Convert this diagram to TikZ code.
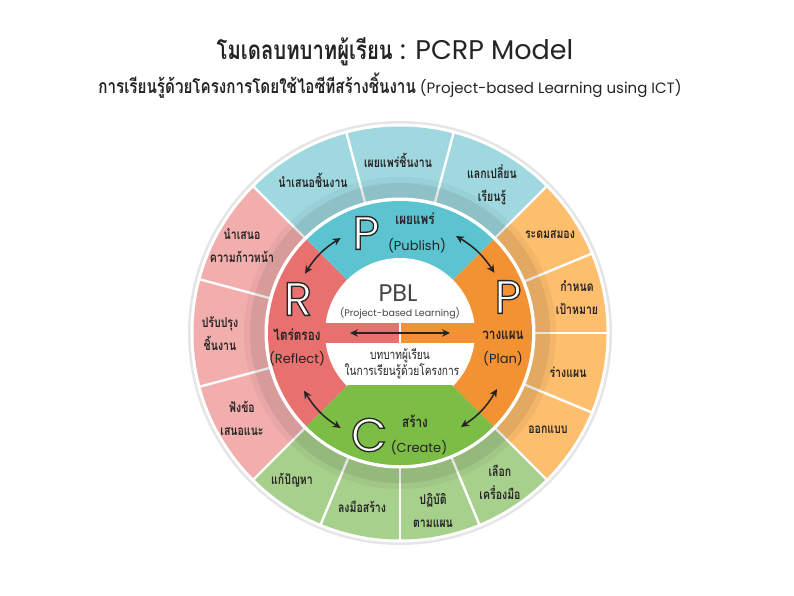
\documentclass[tikz,border=0pt]{standalone}
\usepackage{fontspec}
\setmainfont{Poppins}
\newfontfamily\thai[Script=Thai, FakeStretch=0.78]{Loma}
\usetikzlibrary{arrows.meta,calc}
\definecolor{ink}{HTML}{262324}
\definecolor{bOut}{HTML}{A0D8E0}
\definecolor{oOut}{HTML}{FDBE6E}
\definecolor{gOut}{HTML}{A8D08D}
\definecolor{pOut}{HTML}{F2AEAD}
\definecolor{bMid}{HTML}{5CC3D1}
\definecolor{oMid}{HTML}{F39233}
\definecolor{gMid}{HTML}{7CBD45}
\definecolor{rMid}{HTML}{E8716F}
\tikzset{
  seglabel/.style={font=\thai\bfseries\fontsize{13.5}{23}\selectfont, align=center, text=ink, inner sep=0pt},
  midthai/.style={font=\thai\bfseries\fontsize{15}{17}\selectfont, text=ink, inner sep=0pt},
  midlat/.style={font=\fontsize{13}{15}\selectfont, text=ink, inner sep=0pt},
  bigl/.style={font=\fontsize{47}{50}\selectfont, inner sep=0pt},
  sepline/.style={white, line width=2.4pt},
  arr/.style={draw=ink, line width=1.5pt, {Stealth[length=8pt,width=7.5pt]}-{Stealth[length=8pt,width=7.5pt]}},
}
\newcommand{\outletter}[3]{%
  \node[bigl] (#1) at (#2) {\color{white}\special{pdf:literal direct 0.15 0.14 0.14 RG 1.3 w 2 Tr}#3\special{pdf:literal direct 0 Tr}};}
\begin{document}
\begin{tikzpicture}[x=1pt,y=-1pt]
\useasboundingbox (0,0) rectangle (794,595);
\fill[white] (0,0) rectangle (794,595);
% ---------- wheel ----------
\begin{scope}[shift={(400,333)}, y=1pt]
  \fill[black!10] (0,0) circle (212);
  \fill[white] (0,0) circle (209.5);
  % outer sectors
  \fill[bOut] (0,0) -- (45:206.5) arc[start angle=45, end angle=135, radius=206.5] -- cycle;
  \fill[pOut] (0,0) -- (135:206.5) arc[start angle=135, end angle=225, radius=206.5] -- cycle;
  \fill[gOut] (0,0) -- (225:206.5) arc[start angle=225, end angle=315, radius=206.5] -- cycle;
  \fill[oOut] (0,0) -- (-45:206.5) arc[start angle=-45, end angle=45, radius=206.5] -- cycle;
  \foreach \a in {45,75,105,135,165,195,225,247.5,270,292.5,315,337.5,0,22.5}
    \draw[sepline] (\a:133) -- (\a:207);
  % shadow band
  \fill[black, opacity=0.04, even odd rule] (0,0) circle (156) (0,0) circle (134);
  \fill[black, opacity=0.07, even odd rule] (0,0) circle (150) (0,0) circle (134);
  % white gap + middle ring
  \fill[white] (0,0) circle (135.5);
  \fill[bMid] (0,0) -- (45:132) arc[start angle=45, end angle=135, radius=132] -- cycle;
  \fill[rMid] (0,0) -- (135:132) arc[start angle=135, end angle=225, radius=132] -- cycle;
  \fill[gMid] (0,0) -- (225:132) arc[start angle=225, end angle=315, radius=132] -- cycle;
  \fill[oMid] (0,0) -- (-45:132) arc[start angle=-45, end angle=45, radius=132] -- cycle;
  % inner white
  \fill[white] (0,0) circle (75);
  \begin{scope}
    \clip (0,0) -- (225:132) arc[start angle=225, end angle=315, radius=132] -- cycle;
    \fill[gMid] (-140,-52) rectangle (140,-140);
  \end{scope}
  \fill[rMid] (-80,10) rectangle (-1.4,-9.5);
  \fill[oMid] (1.4,10) rectangle (80,-9.5);
  % arrow end points
  \coordinate (a1) at (122:112); \coordinate (a2) at (148:112);
  \coordinate (b1) at (32.5:112); \coordinate (b2) at (60:112);
  \coordinate (c1) at (211:112);  \coordinate (c2) at (238:112);
  \coordinate (d1) at (-57:112);  \coordinate (d2) at (-30:112);
  \coordinate (h1) at (-50,0);    \coordinate (h2) at (50,0);
  \draw[arr] (a1) to[bend right=13] (a2);
  \draw[arr] (b1) to[bend right=13] (b2);
  \draw[arr] (c1) to[bend right=13] (c2);
  \draw[arr] (d1) to[bend right=13] (d2);
  \draw[arr] (h1) -- (h2);
\end{scope}
% ---------- titles ----------
\node[text=ink, inner sep=0pt, font=\fontsize{27}{30}\selectfont] (title) at (395,52)
  {{\thai\bfseries\fontsize{26}{30}\selectfont โมเดลบทบาทผู้เรียน} : PCRP Model};
\node[text=ink, inner sep=0pt, font=\fontsize{15}{18}\selectfont] (subtitle) at (390,86)
  {{\thai\bfseries\fontsize{19.5}{20}\selectfont การเรียนรู้ด้วยโครงการโดยใช้ไอซีทีสร้างชิ้นงาน} (Project-based Learning using ICT)};
% ---------- outer labels ----------
\node[seglabel] (s1) at (313,180) {นำเสนอชิ้นงาน};
\node[seglabel] (s2) at (398,160) {เผยแพร่ชิ้นงาน};
\node[seglabel] (s3) at (492,185) {แลกเปลี่ยน\\เรียนรู้};
\node[seglabel] (s4) at (550,235) {ระดมสมอง};
\node[seglabel] (s5) at (577,298) {กำหนด\\เป้าหมาย};
\node[seglabel] (s6) at (568,372) {ร่างแผน};
\node[seglabel] (s7) at (548,430) {ออกแบบ};
\node[seglabel] (s8) at (500,482) {เลือก\\เครื่องมือ};
\node[seglabel] (s9) at (433,510) {ปฏิบัติ\\ตามแผน};
\node[seglabel] (s10) at (362,507) {ลงมือสร้าง};
\node[seglabel] (s11) at (292,480) {แก้ปัญหา};
\node[seglabel] (s12) at (242,418) {ฟังข้อ\\เสนอแนะ};
\node[seglabel] (s13) at (220,334) {ปรับปรุง\\ชิ้นงาน};
\node[seglabel] (s14) at (242,246) {นำเสนอ\\ความก้าวหน้า};
% ---------- middle ring ----------
\outletter{bigP1}{366,233}{P}
\node[midthai] (pub1) at (415,219) {เผยแพร่};
\node[midlat] (pub2) at (417,246) {(Publish)};
\outletter{bigR}{298,299}{R}
\node[midthai] (ref1) at (297,335) {ไตร่ตรอง};
\node[midlat] (ref2) at (297,359) {(Reflect)};
\outletter{bigP2}{508,297}{P}
\node[midthai] (pl1) at (503,335) {วางแผน};
\node[midlat] (pl2) at (503,359) {(Plan)};
\outletter{bigC}{369,435}{C}
\node[midthai] (cr1) at (415,421) {สร้าง};
\node[midlat] (cr2) at (419,448) {(Create)};
% ---------- center ----------
\node[text=ink!85, inner sep=0pt, font=\fontsize{24}{26}\selectfont] (pbl) at (398,293) {PBL};
\node[text=ink!85, inner sep=0pt, font=\fontsize{9.5}{11}\selectfont] (pbl2) at (400,313) {(Project-based Learning)};
\node[text=ink, inner sep=0pt, font=\thai\fontsize{13}{14}\selectfont] (role1) at (400,356) {บทบาทผู้เรียน};
\node[text=ink, inner sep=0pt, font=\thai\fontsize{13}{14}\selectfont] (role2) at (402,371) {ในการเรียนรู้ด้วยโครงการ};
\end{tikzpicture}
\end{document}
